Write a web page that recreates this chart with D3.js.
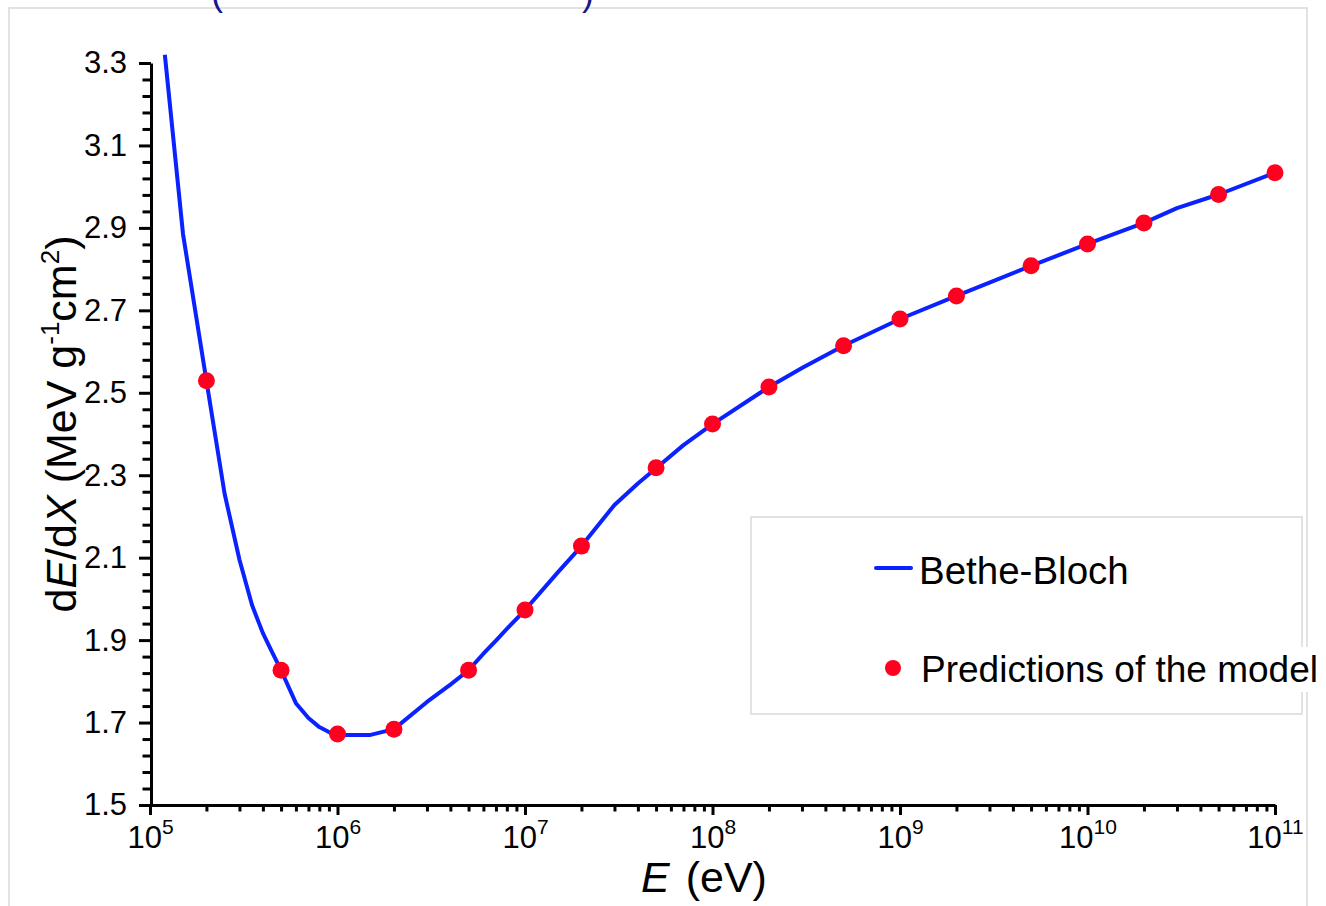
<!DOCTYPE html>
<html>
<head>
<meta charset="utf-8">
<script src="https://cdn.jsdelivr.net/npm/d3@7/dist/d3.min.js"></script>
<style>
  html, body { margin: 0; padding: 0; background: #fff; }
  svg { display: block; }
  text { font-family: "Liberation Sans", Arial, Helvetica, sans-serif; fill: #000; }
</style>
</head>
<body>
<svg id="chart" width="1326" height="906"></svg>
<script>
// Bethe-Bloch stopping power curve (energy in eV, dE/dX in MeV g^-1 cm^2)
const lineEnergy = [1.2e5, 1.5e5, 2e5, 2.5e5, 3e5, 3.5e5, 4e5, 4.5e5, 5e5, 6e5, 7e5, 8e5, 9e5,
  1e6, 1.5e6, 2e6, 3e6, 4e6, 5e6, 6e6, 7e6, 8e6, 1e7, 1.5e7, 2e7, 3e7, 4e7, 5e7, 7e7,
  1e8, 2e8, 3e8, 5e8, 1e9, 2e9, 3e9, 5e9, 1e10, 2e10, 3e10, 5e10, 1e11];
const lineDEDX = [3.32, 2.885, 2.529, 2.255, 2.095, 1.985, 1.917, 1.869, 1.827, 1.747, 1.711, 1.689, 1.677,
  1.670, 1.670, 1.684, 1.750, 1.792, 1.827, 1.867, 1.899, 1.927, 1.973, 2.065, 2.128, 2.228, 2.28, 2.317, 2.373,
  2.424, 2.514, 2.56, 2.614, 2.679, 2.735, 2.767, 2.808, 2.861, 2.912, 2.948, 2.981, 3.034];

// Model predictions
const modelEnergy = [2e5, 5e5, 1e6, 2e6, 5e6, 1e7, 2e7, 5e7, 1e8, 2e8, 5e8, 1e9, 2e9, 5e9, 1e10, 2e10, 5e10, 1e11];
const modelDEDX = [2.529, 1.827, 1.672, 1.684, 1.827, 1.973, 2.128, 2.318, 2.424, 2.514, 2.614, 2.679, 2.735, 2.808, 2.861, 2.912, 2.981, 3.034];

// Axis ticks
const yMajorTicks = [1.5, 1.7, 1.9, 2.1, 2.3, 2.5, 2.7, 2.9, 3.1, 3.3];
const yTickLabels = ["1.5", "1.7", "1.9", "2.1", "2.3", "2.5", "2.7", "2.9", "3.1", "3.3"];
const xMajorTicks = [1e5, 1e6, 1e7, 1e8, 1e9, 1e10, 1e11];
const xTickExponents = ["5", "6", "7", "8", "9", "10", "11"];

const legendLabels = ["Bethe-Bloch", "Predictions of the model"];

const BLUE = "#0a22ff";
const RED = "#ff0020";
const NAVY = "#16168f";
const FRAME = "#d9d9d9";

const svg = d3.select("#chart");

// outer frame
svg.append("rect")
  .attr("x", 9).attr("y", 8).attr("width", 1298).attr("height", 1000)
  .attr("fill", "none").attr("stroke", FRAME).attr("stroke-width", 1.5);

// title brackets, clipped by the top edge
svg.append("text").attr("x", 211).attr("y", 5).attr("font-size", 36).style("fill", NAVY).text("(");
svg.append("text").attr("x", 582).attr("y", 5).attr("font-size", 36).style("fill", NAVY).text(")");

const x = d3.scaleLog().domain([1e5, 1e11]).range([150, 1275]);
const y = d3.scaleLinear().domain([1.5, 3.3]).range([805, 63]);

// minor y ticks every 0.04
const yMinor = d3.range(0, 46).map(i => +(1.5 + i * 0.04).toFixed(2)).filter(v => !yMajorTicks.some(m => Math.abs(m - v) < 1e-6));
const gyMinor = svg.append("g").attr("transform", "translate(151,0)")
  .call(d3.axisLeft(y).tickValues(yMinor).tickSize(8.5).tickSizeOuter(0).tickFormat(""));
gyMinor.select(".domain").remove();

const gy = svg.append("g").attr("transform", "translate(151,0)")
  .call(d3.axisLeft(y).tickValues(yMajorTicks).tickSize(12).tickSizeOuter(0).tickPadding(12)
    .tickFormat((d, i) => yTickLabels[i]));
gy.selectAll("text").attr("font-size", 31).style("font-family", null);

// minor x ticks 2..9 per decade
const xMinor = [];
for (let e = 5; e < 11; e++) for (let k = 2; k <= 9; k++) xMinor.push(k * Math.pow(10, e));
const gxMinor = svg.append("g").attr("transform", "translate(0,805)")
  .call(d3.axisBottom(x).tickValues(xMinor).tickSize(6.5).tickSizeOuter(0).tickFormat(""));
gxMinor.select(".domain").remove();

const gx = svg.append("g").attr("transform", "translate(0,805)")
  .call(d3.axisBottom(x).tickValues(xMajorTicks).tickSize(10).tickSizeOuter(0).tickFormat(""));

[gy, gx, gyMinor, gxMinor].forEach(g => {
  g.selectAll(".tick line").attr("stroke", "#000").attr("stroke-width", 3);
  g.select(".domain").attr("stroke", "#000").attr("stroke-width", 3);
});

// power-of-ten labels
gx.selectAll(".tick").each(function (d, i) {
  const t = d3.select(this).append("text")
    .attr("y", 43).attr("text-anchor", "middle").attr("font-size", 31);
  t.append("tspan").text("10");
  t.append("tspan").attr("font-size", 21).attr("dy", -14).text(xTickExponents[i]);
});

// curve
const line = d3.line().x(d => x(d[0])).y(d => y(d[1]));
svg.append("path")
  .datum(lineEnergy.map((e, i) => [e, lineDEDX[i]]))
  .attr("d", line)
  .attr("fill", "none").attr("stroke", BLUE).attr("stroke-width", 4)
  .attr("stroke-linejoin", "round");

// model points
svg.append("g").selectAll("circle")
  .data(modelEnergy.map((e, i) => [e, modelDEDX[i]]))
  .join("circle")
  .attr("cx", d => x(d[0])).attr("cy", d => y(d[1])).attr("r", 8.5)
  .attr("fill", RED);

// axis titles
const xt = svg.append("text").attr("x", 641).attr("y", 892).attr("font-size", 43);
xt.append("tspan").attr("font-style", "italic").text("E");
xt.append("tspan").attr("dx", 16).text("(eV)");

const yt = svg.append("text").attr("transform", "translate(76,424) rotate(-90)")
  .attr("text-anchor", "middle").attr("font-size", 43);
yt.append("tspan").text("d");
yt.append("tspan").attr("font-style", "italic").text("E");
yt.append("tspan").text("/d");
yt.append("tspan").attr("font-style", "italic").text("X");
yt.append("tspan").text(" (MeV g");
yt.append("tspan").attr("font-size", 26).attr("dy", -17).text("-1");
yt.append("tspan").attr("dy", 17).text("cm");
yt.append("tspan").attr("font-size", 26).attr("dy", -17).text("2");
yt.append("tspan").attr("dy", 17).text(")");

// legend
svg.append("rect").attr("x", 751).attr("y", 517).attr("width", 551).attr("height", 197)
  .attr("fill", "#fff").attr("stroke", FRAME).attr("stroke-width", 1.5);
svg.append("line").attr("x1", 876).attr("x2", 911).attr("y1", 568).attr("y2", 568)
  .attr("stroke", BLUE).attr("stroke-width", 4).attr("stroke-linecap", "round");
svg.append("text").attr("x", 919).attr("y", 584).attr("font-size", 38.5).text(legendLabels[0]);
svg.append("circle").attr("cx", 893).attr("cy", 668).attr("r", 8).attr("fill", RED);
const bg = svg.append("rect").attr("fill", "#fff");
const t2 = svg.append("text").attr("x", 921).attr("y", 682).attr("font-size", 37).text(legendLabels[1]);
const bb = t2.node().getBBox();
bg.attr("x", bb.x - 2).attr("y", bb.y - 2).attr("width", bb.width + 4).attr("height", bb.height + 4);
</script>
</body>
</html>
